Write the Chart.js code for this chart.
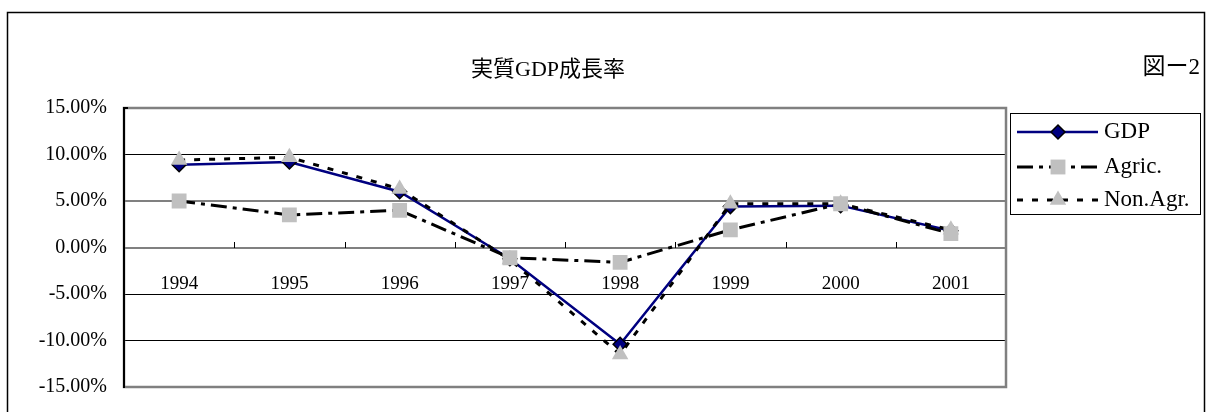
<!DOCTYPE html>
<html><head><meta charset="utf-8">
<script src="https://cdn.jsdelivr.net/npm/chart.js@4"></script>
<style>html,body{margin:0;padding:0;background:#fff}canvas{display:block}</style>
</head><body>
<canvas id="c" width="1207" height="412"></canvas>
<script>
const categories = ['1994','1995','1996','1997','1998','1999','2000','2001'];
const gdp    = [8.9, 9.2, 6.0, -1.2, -10.4, 4.4, 4.5, 1.8];
const agric  = [5.0, 3.5, 4.0, -1.1, -1.6, 1.9, 4.7, 1.5];
const nonAgr = [9.4, 9.7, 6.3, -1.3, -11.5, 4.7, 4.7, 1.9];
const yMin = -15, yMax = 15, yStep = 5;
const chartTitle = '実質GDP成長率';
const figLabel = '図ー2';
const seriesNames = ['GDP', 'Agric.', 'Non.Agr.'];

const FONT = "'Liberation Serif','Noto Sans CJK JP',serif";

function drawMarker(ctx, ds, x, y) {
  if (Chart.helpers && Chart.helpers.drawPoint) {
    Chart.helpers.drawPoint(ctx, {pointStyle: ds.pointStyle, radius: ds.pointRadius, borderWidth: ds.pointBorderWidth, rotation: 0}, x, y);
  }
}

const deco = {
  id: 'deco',
  beforeDraw(chart) {
    const ctx = chart.ctx;
    ctx.save();
    ctx.fillStyle = '#fff';
    ctx.fillRect(0, 0, chart.width, chart.height);
    ctx.strokeStyle = '#000';
    ctx.lineWidth = 1.5;
    ctx.strokeRect(7.5, 12.5, 1197, 500);
    ctx.fillStyle = '#000';
    ctx.font = '22px ' + FONT;
    ctx.textBaseline = 'middle';
    ctx.textAlign = 'center';
    ctx.fillText(chartTitle, 548, 70);
    ctx.textAlign = 'right';
    ctx.font = '23px ' + FONT;
    ctx.fillText(figLabel, 1200, 68);
    ctx.restore();
  },
  beforeDatasetsDraw(chart) {
    const {ctx, chartArea: a, scales: {x, y}} = chart;
    ctx.save();
    ctx.strokeStyle = '#808080';
    ctx.lineWidth = 2.5;
    ctx.strokeRect(a.left, a.top, a.right - a.left, a.bottom - a.top);
    ctx.strokeStyle = '#000';
    ctx.lineWidth = 2;
    ctx.beginPath();
    ctx.moveTo(a.left, a.top - 1);
    ctx.lineTo(a.left, a.bottom + 1);
    ctx.moveTo(a.left - 1, a.top);
    ctx.lineTo(a.left + 4, a.top);
    ctx.stroke();
    const y0 = Math.round(y.getPixelForValue(0));
    ctx.lineWidth = 1;
    ctx.beginPath();
    for (let i = 0; i < categories.length - 1; i++) {
      const px = Math.round((x.getPixelForValue(i) + x.getPixelForValue(i + 1)) / 2) + 0.5;
      ctx.moveTo(px, y0 - 6);
      ctx.lineTo(px, y0);
    }
    ctx.stroke();
    ctx.restore();
  },
  afterDraw(chart) {
    const ctx = chart.ctx;
    const rows = [132, 167, 200];
    ctx.save();
    ctx.strokeStyle = '#000';
    ctx.lineWidth = 1;
    ctx.strokeRect(1010.5, 113.5, 190, 101);
    chart.data.datasets.forEach((ds, i) => {
      const yy = rows[i];
      ctx.save();
      ctx.strokeStyle = ds.borderColor;
      ctx.lineWidth = ds.borderWidth;
      ctx.setLineDash(ds.borderDash || []);
      ctx.beginPath();
      ctx.moveTo(1017, yy);
      ctx.lineTo(1098, yy);
      ctx.stroke();
      ctx.setLineDash([]);
      ctx.fillStyle = ds.pointBackgroundColor;
      ctx.strokeStyle = ds.pointBorderColor;
      ctx.lineWidth = ds.pointBorderWidth;
      drawMarker(ctx, ds, 1058, yy);
      ctx.fillStyle = '#000';
      ctx.font = '23px ' + FONT;
      ctx.textAlign = 'left';
      ctx.textBaseline = 'middle';
      ctx.fillText(ds.label, 1104, yy);
      ctx.restore();
    });
    ctx.restore();
  }
};

new Chart(document.getElementById('c'), {
  type: 'line',
  data: {
    labels: categories,
    datasets: [
      {
        label: seriesNames[0], data: gdp, order: 3,
        borderColor: '#000080', borderWidth: 2.5, borderDash: [],
        pointStyle: 'rectRot', pointRadius: 7, pointBackgroundColor: '#000080',
        pointBorderColor: '#000', pointBorderWidth: 1.5, tension: 0
      },
      {
        label: seriesNames[1], data: agric, order: 1,
        borderColor: '#000', borderWidth: 3, borderDash: [16, 6, 4, 6],
        pointStyle: 'rect', pointRadius: 10.5, pointBackgroundColor: '#c0c0c0',
        pointBorderColor: '#c0c0c0', pointBorderWidth: 0, tension: 0
      },
      {
        label: seriesNames[2], data: nonAgr, order: 2,
        borderColor: '#000', borderWidth: 3, borderDash: [6, 9],
        pointStyle: 'triangle', pointRadius: 9.5, pointBackgroundColor: '#c0c0c0',
        pointBorderColor: '#c0c0c0', pointBorderWidth: 0, tension: 0
      }
    ]
  },
  options: {
    responsive: false,
    animation: false,
    devicePixelRatio: 1,
    layout: {padding: {top: 108, right: 201, bottom: 25, left: 0}},
    plugins: {legend: {display: false}, title: {display: false}, tooltip: {enabled: false}},
    scales: {
      x: {
        type: 'category',
        position: {y: 0},
        offset: true,
        afterFit(s) { s.height = 0; s.paddingTop = 0; s.paddingBottom = 0; s.paddingLeft = 0; s.paddingRight = 0; },
        grid: {display: false, drawTicks: false},
        border: {display: false},
        ticks: {padding: 25, color: '#000', font: {family: FONT, size: 19}, maxRotation: 0}
      },
      y: {
        min: yMin, max: yMax,
        afterFit(s) { s.width = 124; s.paddingTop = 0; s.paddingBottom = 0; },
        grid: {
          drawTicks: false,
          color: c => (c.tick && (c.tick.value === 5 || c.tick.value === 0)) ? '#808080' : '#000',
          lineWidth: c => (c.tick && (c.tick.value === 5 || c.tick.value === 0)) ? 2 : 1
        },
        border: {display: false},
        ticks: {
          stepSize: yStep, padding: 17, color: '#000',
          font: {family: FONT, size: 20},
          callback: v => v.toFixed(2) + '%'
        }
      }
    }
  },
  plugins: [deco]
});
</script>
</body></html>
